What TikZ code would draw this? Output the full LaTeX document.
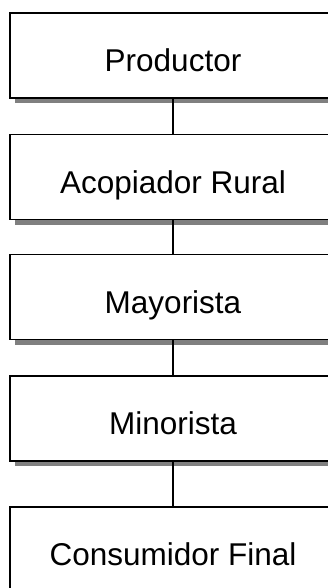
\documentclass[tikz,border=0pt]{standalone}
\usepackage{fontspec}
\setmainfont{Liberation Sans}
\usetikzlibrary{shadows}
\definecolor{sombra}{HTML}{808080}

\begin{document}
\begin{tikzpicture}[x=1pt,y=-1pt,
	etapa/.style={draw=black,line width=1.2pt,fill=white,
		minimum width=326pt,minimum height=85pt,
		text height=32pt,text depth=0pt,
		font=\fontsize{31.5}{36}\selectfont,
		drop shadow={shadow xshift=5pt,shadow yshift=-5pt,fill=sombra,opacity=1}},
	enlace/.style={draw=black,line width=1.2pt}]
	\useasboundingbox (0,0) rectangle (328,588);

	\node[etapa] (pro) at (173,55.5) {Productor};
	\node[etapa] (aco) at (173,177) {Acopiador Rural};
	\node[etapa] (may) at (173,297) {Mayorista};
	\node[etapa] (min) at (173,418.5) {Minorista};
	\node[etapa] (con) at (173,549.5) {Consumidor Final};

	% cadena
	\path[enlace] (pro.south) -- (aco.north);
	\path[enlace] (aco.south) -- (may.north);
	\path[enlace] (may.south) -- (min.north);
	\path[enlace] (min.south) -- (con.north);
\end{tikzpicture}
\end{document}
